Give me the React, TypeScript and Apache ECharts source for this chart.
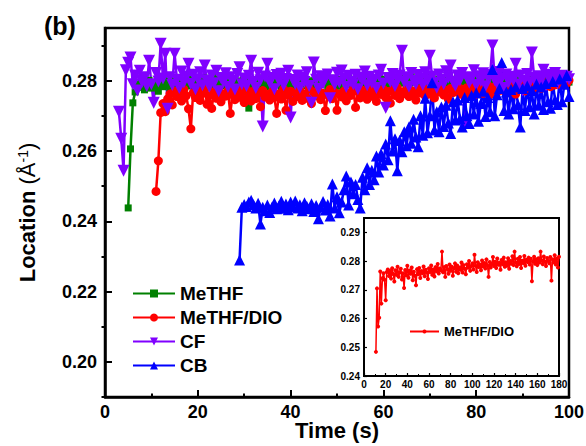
import React, { useEffect, useRef } from "react";
import * as echarts from "echarts";

const FONT = "'Liberation Sans', Arial, Helvetica, sans-serif";

// ---------- legend / series names ----------
const mainSeriesNames = ["MeTHF", "MeTHF/DIO", "CF", "CB"];
const insetLegendLabel = "MeTHF/DIO";

// ---------- axis ticks ----------
const mainYLabels = [0.2, 0.22, 0.24, 0.26, 0.28];
const mainYMinor = [0.19, 0.21, 0.23, 0.25, 0.27, 0.29];
const insetYLabels = [0.24, 0.25, 0.26, 0.27, 0.28, 0.29];

// ---------- MeTHF (green), sampled every 0.5 s from 5 s ----------
const methfStart = 5;
const methfStep = 0.5;
const methfValues = [
  0.2438, 0.2606, 0.2737, 0.2768, 0.279, 0.2781, 0.2795, 0.2774, 0.2788, 0.2801,
  0.2779, 0.2792, 0.2785, 0.277, 0.2796, 0.2783, 0.2799, 0.2787, 0.2776, 0.2793,
  0.2805, 0.2781, 0.279, 0.2797, 0.2772, 0.2789, 0.2803, 0.2785, 0.2794, 0.2779,
  0.28, 0.2788, 0.2796, 0.2782, 0.2807, 0.2791, 0.2784, 0.2798, 0.281, 0.2789,
  0.2795, 0.2812, 0.2786, 0.2801, 0.2793, 0.2781, 0.2806, 0.279, 0.2799, 0.2787,
  0.2802, 0.2794, 0.2722, 0.2791, 0.28, 0.2785, 0.2797, 0.2808, 0.2789, 0.2795,
  0.2783, 0.2801, 0.2792, 0.2788, 0.2804, 0.2796, 0.2781, 0.2799, 0.279, 0.2806,
  0.2787, 0.2797, 0.2802, 0.2784, 0.2793, 0.2809, 0.2791, 0.2786, 0.28, 0.2794,
  0.2782, 0.2798, 0.2805, 0.2789, 0.2795, 0.2801, 0.2778, 0.2792, 0.2807, 0.279,
  0.2796, 0.2784, 0.2803, 0.2799, 0.2788, 0.2811, 0.2793, 0.2785, 0.28, 0.2797,
  0.279, 0.2806, 0.2782, 0.2798, 0.2794, 0.2808, 0.2787, 0.2801, 0.2795, 0.279,
  0.2804, 0.2792, 0.2799, 0.2786, 0.281, 0.2796, 0.2789, 0.2803, 0.2793, 0.2807,
  0.2798, 0.2785, 0.2812, 0.2794, 0.28, 0.2788, 0.2806, 0.2797, 0.2791, 0.2802,
  0.2795, 0.2808, 0.2786, 0.2799, 0.2804, 0.279, 0.2797, 0.2781, 0.2805, 0.2793,
  0.28, 0.2789, 0.2809, 0.2796, 0.2786, 0.2802, 0.2794, 0.2807, 0.2791, 0.2799,
  0.2785, 0.2803, 0.2797, 0.279, 0.2806, 0.2794, 0.28, 0.2788, 0.2805, 0.2796,
  0.2791, 0.2809, 0.2798, 0.2787, 0.2802, 0.2795, 0.2806, 0.279, 0.2799, 0.2803,
  0.2793, 0.2788, 0.2804, 0.2797, 0.2801, 0.2792, 0.2807, 0.2796, 0.2789, 0.2803,
  0.2798, 0.2794, 0.2806, 0.2791, 0.28, 0.2797, 0.2804, 0.2793, 0.2799, 0.2802,
  0.2796,
];

// ---------- MeTHF/DIO (red), every 0.5 s from 11 s ----------
const dioStart = 11;
const dioStep = 0.5;
const dioValues = [
  0.2485, 0.2572, 0.2709, 0.2735, 0.2712, 0.2748, 0.2762, 0.2731, 0.277, 0.2755,
  0.2768, 0.2742, 0.2775, 0.2757, 0.272, 0.2663, 0.2766, 0.2752, 0.2771, 0.2744,
  0.2763, 0.2776, 0.2733, 0.2758, 0.2721, 0.2769, 0.275, 0.2774, 0.274, 0.2762,
  0.2756, 0.2772, 0.2707, 0.276, 0.2746, 0.2778, 0.2753, 0.2767, 0.2738, 0.2775,
  0.2758, 0.2742, 0.277, 0.2749, 0.2765, 0.2726, 0.2772, 0.2754, 0.2761, 0.2745,
  0.2768, 0.2752, 0.2707, 0.2763, 0.2748, 0.2776, 0.2716, 0.2759, 0.277, 0.2741,
  0.2766, 0.2755, 0.2773, 0.2744, 0.2762, 0.275, 0.2778, 0.2735, 0.2768, 0.2757,
  0.2771, 0.2746, 0.2764, 0.2715, 0.2759, 0.2775, 0.2749, 0.2767, 0.2716, 0.2762,
  0.2754, 0.277, 0.2743, 0.2765, 0.2758, 0.2776, 0.2724, 0.2769, 0.2751, 0.2773,
  0.276, 0.2747, 0.2772, 0.2756, 0.2778, 0.2741, 0.2766, 0.2761, 0.2775, 0.2752,
  0.2769, 0.2736, 0.2774, 0.2758, 0.278, 0.2749, 0.2767, 0.2763, 0.2777, 0.2755,
  0.2772, 0.276, 0.2745, 0.2776, 0.2765, 0.2781, 0.2757, 0.277, 0.2762, 0.2779,
  0.2751, 0.2774, 0.2768, 0.2782, 0.2759, 0.2773, 0.2747, 0.2778, 0.2766, 0.2771,
  0.2784, 0.2762, 0.2776, 0.2755, 0.278, 0.2769, 0.2785, 0.2758, 0.2775, 0.277,
  0.2782, 0.2764, 0.2779, 0.2787, 0.2761, 0.2776, 0.2783, 0.2768, 0.2789, 0.2773,
  0.278, 0.2766, 0.2786, 0.2777, 0.279, 0.2762, 0.2784, 0.2779, 0.2788, 0.2771,
  0.2785, 0.2792, 0.2776, 0.2789, 0.2781, 0.2794, 0.2778, 0.2791, 0.2786, 0.2797,
  0.2783, 0.2795, 0.2788, 0.2802, 0.279, 0.2799, 0.2806, 0.2793, 0.2801,
];

// ---------- CF (violet), every 0.5 s from 3 s ----------
const cfStart = 3;
const cfStep = 0.5;
const cfValues = [
  0.2712, 0.2635, 0.2544, 0.283, 0.2851, 0.2866, 0.279, 0.2815, 0.2772, 0.2828,
  0.2796, 0.281, 0.2785, 0.2857, 0.279, 0.2737, 0.2822, 0.2798, 0.2905, 0.2806,
  0.2877, 0.272, 0.281, 0.2788, 0.2877, 0.2803, 0.2779, 0.2826, 0.2795, 0.2812,
  0.2848, 0.2791, 0.2817, 0.2776, 0.2804, 0.2824, 0.2787, 0.2843, 0.28, 0.2783,
  0.2815, 0.2793, 0.2828, 0.277, 0.2808, 0.2796, 0.2821, 0.2782, 0.281, 0.2799,
  0.2775, 0.2819, 0.2838, 0.279, 0.2806, 0.2785, 0.2814, 0.2857, 0.2797, 0.2779,
  0.2823, 0.2801, 0.267, 0.2812, 0.2848, 0.2794, 0.2808, 0.2776, 0.2816, 0.2799,
  0.282, 0.2787, 0.2805, 0.2828, 0.2695, 0.2802, 0.2791, 0.2815, 0.278, 0.2809,
  0.2796, 0.2824, 0.2785, 0.2737, 0.2852, 0.2803, 0.2777, 0.2813, 0.2792, 0.2808,
  0.2818, 0.275, 0.2801, 0.2789, 0.2823, 0.2795, 0.2829, 0.2806, 0.2782, 0.2814,
  0.2798, 0.279, 0.2817, 0.2776, 0.2809, 0.2802, 0.2826, 0.2787, 0.2811, 0.2794,
  0.2803, 0.2779, 0.2815, 0.2831, 0.2792, 0.2723, 0.2808, 0.2797, 0.2819, 0.2785,
  0.2804, 0.2815, 0.2885, 0.2796, 0.281, 0.2783, 0.2822, 0.28, 0.2791, 0.2816,
  0.2806, 0.2788, 0.2824, 0.2799, 0.2871, 0.2812, 0.2794, 0.278, 0.2818, 0.2803,
  0.2791, 0.2827, 0.2809, 0.2843, 0.2797, 0.2786, 0.2815, 0.2801, 0.2822, 0.2675,
  0.281, 0.2794, 0.2806, 0.283, 0.2788, 0.2813, 0.2799, 0.2821, 0.2784, 0.2808,
  0.2816, 0.29, 0.2801, 0.2792, 0.2825, 0.2807, 0.2779, 0.2818, 0.2796, 0.2811,
  0.2803, 0.2848, 0.2789, 0.2815, 0.2772, 0.28, 0.2819, 0.2795, 0.288, 0.2808,
  0.279, 0.2813, 0.2802, 0.2831, 0.2786, 0.2817, 0.2797, 0.2809, 0.2822, 0.2793,
  0.2806, 0.2814, 0.2799, 0.2811, 0.2804,
];

// ---------- CB (blue), every 0.5 s from 29 s ----------
const cbStart = 29;
const cbStep = 0.5;
const cbValues = [
  0.229, 0.244, 0.2448, 0.2442, 0.2455, 0.246, 0.2447, 0.2438, 0.2451, 0.2392,
  0.244, 0.243, 0.2446, 0.2425, 0.2441, 0.2452, 0.2436, 0.2444, 0.2457, 0.2437,
  0.2449, 0.2433, 0.2455, 0.2442, 0.2458, 0.2438, 0.2447, 0.243, 0.2453, 0.2443,
  0.2436, 0.245, 0.2428, 0.2445, 0.2407, 0.2441, 0.2456, 0.2432, 0.2448, 0.2415,
  0.2506, 0.2438, 0.247, 0.2424, 0.2455, 0.249, 0.2529, 0.2446, 0.2512, 0.2478,
  0.2505, 0.2462, 0.2438, 0.2525, 0.249, 0.2552, 0.2505, 0.2545, 0.2518, 0.2586,
  0.254, 0.2592, 0.256, 0.262, 0.2575, 0.2686, 0.26, 0.2635, 0.2544, 0.263,
  0.2598, 0.2655, 0.2615, 0.2668, 0.2622, 0.269, 0.264, 0.2612, 0.27, 0.2645,
  0.275, 0.2652, 0.27, 0.2794, 0.266, 0.2712, 0.2655, 0.2725, 0.267, 0.273,
  0.268, 0.265, 0.274, 0.2688, 0.2745, 0.2692, 0.2668, 0.2752, 0.27, 0.2678,
  0.2758, 0.2705, 0.2765, 0.2685, 0.2735, 0.277, 0.2698, 0.2752, 0.2712, 0.2832,
  0.27, 0.276, 0.2778, 0.2852, 0.2715, 0.2768, 0.2705, 0.2775, 0.272, 0.2782,
  0.2732, 0.2668, 0.2778, 0.2715, 0.2785, 0.2726, 0.2772, 0.2705, 0.279, 0.273,
  0.2782, 0.2718, 0.2792, 0.274, 0.2722, 0.2798, 0.2745, 0.2732, 0.2805, 0.274,
  0.279, 0.2815, 0.2755,
];

// ---------- inset: MeTHF/DIO over 180 s, every 1 s from 11 s ----------
const insetStart = 11;
const insetStep = 1;
const insetValues = [
  0.2484, 0.2705, 0.2572, 0.2603, 0.2764, 0.2652, 0.274, 0.2758, 0.2735, 0.2664,
  0.2762, 0.2771, 0.2748, 0.2766, 0.2739, 0.2775, 0.2755, 0.2729, 0.2768, 0.2752,
  0.278, 0.2745, 0.2761, 0.2773, 0.2736, 0.2758, 0.2706, 0.2769, 0.2751, 0.2784,
  0.2742, 0.2767, 0.2756, 0.2778, 0.2733, 0.2763, 0.2749, 0.2716, 0.2772, 0.2754,
  0.2776, 0.2741, 0.2765, 0.2758, 0.2781, 0.2747, 0.277, 0.276, 0.2738, 0.2775,
  0.2762, 0.2785, 0.2752, 0.2771, 0.2746, 0.2779, 0.2765, 0.279, 0.2757, 0.2774,
  0.2768, 0.2833, 0.2761, 0.2779, 0.2745, 0.2783, 0.2772, 0.2756, 0.2788, 0.2766,
  0.278, 0.2749, 0.2775, 0.2792, 0.2763, 0.2785, 0.2758, 0.2778, 0.277, 0.2795,
  0.276, 0.2786, 0.2773, 0.2754, 0.2789, 0.2777, 0.28, 0.2766, 0.2783, 0.2792,
  0.2771, 0.2822, 0.2784, 0.2762, 0.2796, 0.2779, 0.2788, 0.2768, 0.2802, 0.2781,
  0.2793, 0.2774, 0.2806, 0.2785, 0.2745, 0.2797, 0.2778, 0.279, 0.2814, 0.2783,
  0.2798, 0.2776, 0.2809, 0.2787, 0.2794, 0.277, 0.2804, 0.2789, 0.2812, 0.278,
  0.2796, 0.2784, 0.281, 0.2773, 0.28, 0.2791, 0.2817, 0.2786, 0.2833, 0.2795,
  0.2782, 0.2808, 0.279, 0.2814, 0.2776, 0.2801, 0.2793, 0.2818, 0.2784, 0.2805,
  0.2797, 0.2812, 0.2788, 0.2808, 0.273, 0.2799, 0.2815, 0.2791, 0.2806, 0.2786,
  0.281, 0.2795, 0.2833, 0.2802, 0.2789, 0.2816, 0.2798, 0.2783, 0.2811, 0.28,
  0.2792, 0.2814, 0.2732, 0.2806, 0.2796, 0.282, 0.2788, 0.2809, 0.2778, 0.2815,
];

function toPairs(start: number, step: number, values: number[]) {
  return values.map((v, i) => [Math.round((start + i * step) * 100) / 100, v]);
}

const axisText = {
  color: "#000",
  fontFamily: FONT,
  fontWeight: "bold" as const,
};

export default function App() {
  const ref = useRef<HTMLDivElement>(null);

  useEffect(() => {
    document.body.style.margin = "0";
    if (!ref.current) return;
    const chart = echarts.init(ref.current, null, { renderer: "svg" });

    const blackLine = (w: number) => ({ lineStyle: { color: "#000", width: w } });

    const option: any = {
      animation: false,
      backgroundColor: "#fff",
      textStyle: { fontFamily: FONT },
      graphic: [
        {
          type: "text",
          left: 44,
          top: 13,
          style: { text: "(b)", font: `bold 25px ${FONT}`, fill: "#000" },
        },
      ],
      grid: [
        {
          left: 105, top: 28, width: 464, height: 369,
          outerBoundsMode: "none", containLabel: false,
          show: true, borderColor: "#000", borderWidth: 2.5, backgroundColor: "transparent",
        },
        {
          left: 364, top: 218, width: 195, height: 158,
          outerBoundsMode: "none", containLabel: false,
          show: true, borderColor: "#000", borderWidth: 2, backgroundColor: "#fff",
        },
      ],
      legend: [
        {
          data: mainSeriesNames,
          orient: "vertical",
          left: 127,
          top: 279,
          itemWidth: 42,
          itemHeight: 10,
          itemGap: 5,
          selectedMode: false,
          textStyle: { ...axisText, fontSize: 19 },
        },
        {
          data: ["inset"],
          orient: "vertical",
          left: 404,
          top: 320,
          itemWidth: 29,
          itemHeight: 5,
          selectedMode: false,
          formatter: () => insetLegendLabel,
          textStyle: { ...axisText, fontSize: 13 },
        },
      ],
      xAxis: [
        {
          type: "value",
          gridIndex: 0,
          min: 0,
          max: 100,
          interval: 20,
          axisLine: { onZero: false, ...blackLine(2.5) },
          axisTick: { inside: true, length: 7, ...blackLine(2) },
          minorTick: { show: true, splitNumber: 2, length: 3.5, ...blackLine(2) },
          splitLine: { show: false },
          axisLabel: { ...axisText, fontSize: 18, margin: 6 },
          name: "Time (s)",
          nameLocation: "middle",
          nameMoveOverlap: false,
          nameGap: 22,
          nameTextStyle: { ...axisText, fontSize: 22 },
        },
        {
          type: "value",
          gridIndex: 1,
          min: 0,
          max: 180,
          interval: 20,
          axisLine: { onZero: false, ...blackLine(1.5) },
          axisTick: { inside: true, length: 3, ...blackLine(1.2) },
          minorTick: { show: true, splitNumber: 2, length: 2, ...blackLine(1) },
          splitLine: { show: false },
          axisLabel: { ...axisText, fontSize: 10, margin: 3 },
        },
      ],
      yAxis: [
        {
          type: "value",
          gridIndex: 0,
          min: 0.19,
          max: 0.295,
          axisLine: { onZero: false, ...blackLine(2.5) },
          axisTick: { inside: true, length: 7, customValues: mainYLabels, ...blackLine(2) },
          splitLine: { show: false },
          axisLabel: {
            ...axisText,
            fontSize: 18,
            margin: 8,
            customValues: mainYLabels,
            formatter: (v: number) => v.toFixed(2),
          },
          name: "{b|Location }{n|(Å}{s|-1}{n|)}",
          nameLocation: "middle",
          nameRotate: 90,
          nameMoveOverlap: false,
          nameGap: 67,
          nameTextStyle: {
            ...axisText,
            fontSize: 22,
            rich: {
              b: { fontFamily: FONT, fontWeight: "bold", fontSize: 22, color: "#000" },
              n: { fontFamily: FONT, fontWeight: "normal", fontSize: 22, color: "#000" },
              s: { fontFamily: FONT, fontWeight: "normal", fontSize: 14, color: "#000", verticalAlign: "top" },
            },
          },
        },
        {
          type: "value",
          gridIndex: 0,
          min: 0.19,
          max: 0.295,
          axisLine: { show: false },
          axisTick: { inside: true, length: 3.5, customValues: mainYMinor, ...blackLine(2) },
          axisLabel: { show: false },
          splitLine: { show: false },
        },
        {
          type: "value",
          gridIndex: 1,
          min: 0.24,
          max: 0.295,
          axisLine: { onZero: false, ...blackLine(1.5) },
          axisTick: { inside: true, length: 3, customValues: insetYLabels, ...blackLine(1.2) },
          splitLine: { show: false },
          axisLabel: {
            ...axisText,
            fontSize: 10,
            margin: 4,
            customValues: insetYLabels,
            formatter: (v: number) => v.toFixed(2),
          },
        },
      ],
      series: [
        {
          name: "MeTHF",
          type: "line",
          xAxisIndex: 0,
          yAxisIndex: 0,
          data: toPairs(methfStart, methfStep, methfValues),
          symbol: "rect",
          symbolSize: 7,
          color: "#008000",
          lineStyle: { width: 2.5, color: "#008000" },
          itemStyle: { color: "#008000" },
        },
        {
          name: "MeTHF/DIO",
          type: "line",
          xAxisIndex: 0,
          yAxisIndex: 0,
          data: toPairs(dioStart, dioStep, dioValues),
          symbol: "circle",
          symbolSize: 9,
          color: "#ff0000",
          lineStyle: { width: 2.5, color: "#ff0000" },
          itemStyle: { color: "#ff0000" },
        },
        {
          name: "CF",
          type: "line",
          xAxisIndex: 0,
          yAxisIndex: 0,
          data: toPairs(cfStart, cfStep, cfValues),
          symbol: "triangle",
          symbolRotate: 180,
          symbolSize: 12,
          color: "#8000ff",
          lineStyle: { width: 2.5, color: "#8000ff" },
          itemStyle: { color: "#8000ff" },
        },
        {
          name: "CB",
          type: "line",
          xAxisIndex: 0,
          yAxisIndex: 0,
          data: toPairs(cbStart, cbStep, cbValues),
          symbol: "triangle",
          symbolSize: 11,
          color: "#0000ff",
          lineStyle: { width: 2.5, color: "#0000ff" },
          itemStyle: { color: "#0000ff" },
        },
        {
          name: "inset",
          type: "line",
          xAxisIndex: 1,
          yAxisIndex: 2,
          data: toPairs(insetStart, insetStep, insetValues),
          symbol: "circle",
          symbolSize: 4,
          color: "#ff0000",
          lineStyle: { width: 1.5, color: "#ff0000" },
          itemStyle: { color: "#ff0000" },
        },
      ],
    };

    chart.setOption(option);
    return () => chart.dispose();
  }, []);

  return <div ref={ref} style={{ width: 586, height: 446 }} />;
}
